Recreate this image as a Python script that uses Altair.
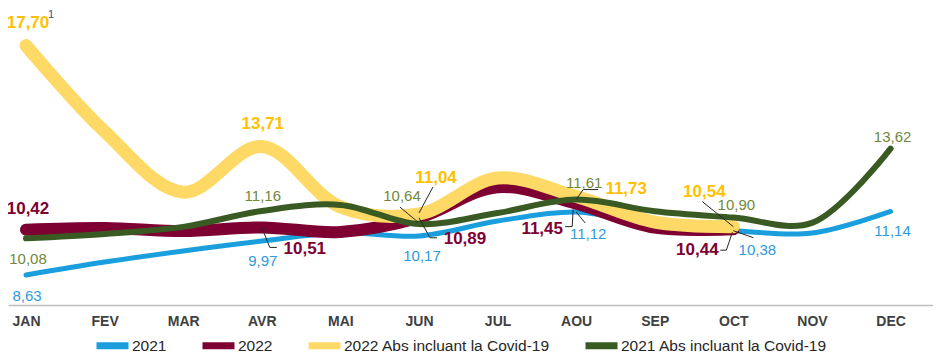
import json
import altair as alt
import pandas as pd

# ---------------- data ----------------
months = ["JAN", "FEV", "MAR", "AVR", "MAI", "JUN", "JUL", "AOU", "SEP", "OCT", "NOV", "DEC"]
series_names = ["2021", "2022", "2022 Abs incluant la Covid-19", "2021 Abs incluant la Covid-19"]

values_2021 = [8.63, 9.14, 9.58, 9.97, 10.30, 10.17, 10.76, 11.12, 10.60, 10.38, 10.29, 11.14]
values_2022 = [10.42, 10.49, 10.37, 10.51, 10.33, 10.89, 12.10, 11.45, 10.50, 10.44]
values_2022_abs = [17.70, 14.30, 11.90, 13.71, 11.32, 11.04, 12.46, 11.73, 10.72, 10.54]
values_2021_abs = [10.08, 10.25, 10.53, 11.16, 11.40, 10.64, 11.08, 11.61, 11.15, 10.90, 10.69, 13.62]

labeled_2021 = ["JAN", "AVR", "JUN", "AOU", "OCT", "DEC"]
labeled_2022 = ["JAN", "AVR", "JUN", "AOU", "OCT"]
labeled_2022_abs = ["JAN", "AVR", "JUN", "AOU", "OCT"]
labeled_2021_abs = ["JAN", "AVR", "JUN", "AOU", "OCT", "DEC"]

footnote_text = "1"

# ---------------- styles / layout ----------------
W, H = 925, 297
X_DOMAIN = [-0.229, 11.54]
Y_DOMAIN = [7.444, 19.18]
PXM = W / (X_DOMAIN[1] - X_DOMAIN[0])
PXV = H / (Y_DOMAIN[1] - Y_DOMAIN[0])

LINE_COLORS = ["#1A9EDD", "#7E0033", "#FFD966", "#3A5A23"]
LINE_WIDTHS = [5, 12, 13, 6]
LABEL_COLORS = ["#2E9BDB", "#7E0033", "#FFC000", "#71883A"]
LABEL_BOLD = [False, True, True, False]
NARROW = "Liberation Sans Narrow, Arial Narrow, Liberation Sans, Arial, sans-serif"
FONT = "Liberation Sans, Arial, sans-serif"

# pixel offsets of each data label from its point (style)
label_offsets = {
    "2021": [(1, 21), (1, 20), (3, 20), (12, 22), (24, 19), (2, 20)],
    "2022": [(2, -21), (43, 22), (46, 21), (-34, 25), (-36, 21)],
    "2022 Abs incluant la Covid-19": [(2, -22.5), (1, -22.5), (17, -36), (50, -8), (-29, -35)],
    "2021 Abs incluant la Covid-19": [(2, 21), (1, -15), (-17, -28), (8, -17), (3, -13), (2, -12)],
}
# leader lines: (series, month, list of pixel offsets from the point)
leaders = [
    ("2022", "AVR", [(0, 0), (8, 20), (15, 20)]),
    ("2021 Abs incluant la Covid-19", "JUN", [(-19, -17), (-1, -2)]),
    ("2022 Abs incluant la Covid-19", "JUN", [(14, -27), (0, -1)]),
    ("2022", "JUN", [(0, 0), (11, 20), (18, 20)]),
    ("2021 Abs incluant la Covid-19", "AOU", [(0, 0), (7, -10), (22, -10)]),
    ("2022", "AOU", [(-3, 6), (-4, 23), (-11, 23)]),
    ("2021", "AOU", [(0, 0), (9, 11)]),
    ("2022 Abs incluant la Covid-19", "OCT", [(-31, -25), (0, 0)]),
    ("2021", "OCT", [(0, 0), (20, 7)]),
    ("2022", "OCT", [(-1, 3), (-7, 21), (-13, 21)]),
]
footnote_offset = (25, -30)

series_values = dict(zip(series_names, [values_2021, values_2022, values_2022_abs, values_2021_abs]))
series_labeled = dict(zip(series_names, [labeled_2021, labeled_2022, labeled_2022_abs, labeled_2021_abs]))


def fmt(v):
    return f"{v:.2f}".replace(".", ",")


x_enc = alt.X(
    "m:Q",
    scale=alt.Scale(domain=X_DOMAIN, nice=False, zero=False),
    axis=alt.Axis(
        values=list(range(len(months))),
        labelExpr=json.dumps(months) + "[datum.value]",
        title=None,
        grid=False,
        ticks=False,
        domainColor="#BFBFBF",
        domainWidth=1.5,
        labelFont=FONT,
        labelFontSize=14,
        labelFontWeight="bold",
        labelColor="#404040",
        labelPadding=9,
        labelFlush=False,
        labelOverlap=False,
    ),
)
y_enc = alt.Y("v:Q", scale=alt.Scale(domain=Y_DOMAIN, nice=False, zero=False), axis=None)

color_enc = alt.Color(
    "series:N",
    scale=alt.Scale(domain=series_names, range=LINE_COLORS),
    legend=alt.Legend(
        orient="none",
        legendX=85,
        legendY=318,
        direction="horizontal",
        title=None,
        symbolType="stroke",
        symbolStrokeWidth=7,
        symbolSize=1024,
        labelFont=FONT,
        labelFontSize=15.5,
        labelColor="#262626",
        labelLimit=400,
        columnPadding=21,
        labelOffset=0,
        padding=0,
    ),
)

layers = []
# lines
for i, s in enumerate(series_names):
    vals = series_values[s]
    df = pd.DataFrame({"m": list(range(len(vals))), "v": vals, "series": s})
    layers.append(
        alt.Chart(df)
        .mark_line(strokeWidth=LINE_WIDTHS[i], strokeCap="round", strokeJoin="round", interpolate="catmull-rom")
        .encode(x=x_enc, y=y_enc, color=color_enc)
    )

# leader lines
rows = []
for lid, (s, mon, pts) in enumerate(leaders):
    mi = months.index(mon)
    v = series_values[s][mi]
    for k, (dx, dy) in enumerate(pts):
        rows.append({"id": lid, "k": k, "m": mi + dx / PXM, "v": v - dy / PXV})
layers.append(
    alt.Chart(pd.DataFrame(rows))
    .mark_line(color="#262626", strokeWidth=1)
    .encode(x=x_enc, y=y_enc, detail="id:N", order="k:Q")
)

# data labels
for i, s in enumerate(series_names):
    rows = []
    for mon, (dx, dy) in zip(series_labeled[s], label_offsets[s]):
        mi = months.index(mon)
        v = series_values[s][mi]
        rows.append({"m": mi + dx / PXM, "v": v - dy / PXV, "t": fmt(v)})
    layers.append(
        alt.Chart(pd.DataFrame(rows))
        .mark_text(
            font=NARROW,
            fontSize=17 if LABEL_BOLD[i] else 15,
            fontWeight="bold" if LABEL_BOLD[i] else "normal",
            color=LABEL_COLORS[i],
            align="center",
            baseline="middle",
        )
        .encode(x=x_enc, y=y_enc, text="t:N")
    )

# footnote marker on the first value of 2022 Abs
fn_v = values_2022_abs[0]
layers.append(
    alt.Chart(pd.DataFrame([{"m": footnote_offset[0] / PXM, "v": fn_v - footnote_offset[1] / PXV, "t": footnote_text}]))
    .mark_text(font=NARROW, fontSize=11, color="#4A4A8C", align="center", baseline="middle")
    .encode(x=x_enc, y=y_enc, text="t:N")
)

chart = (
    alt.layer(*layers)
    .properties(width=W, height=H, padding={"left": 0, "top": 0, "right": 0, "bottom": 54}, autosize="none")
    .configure_view(stroke=None)
)

chart.save("out.html", embed_options={"renderer": "svg", "actions": False})
